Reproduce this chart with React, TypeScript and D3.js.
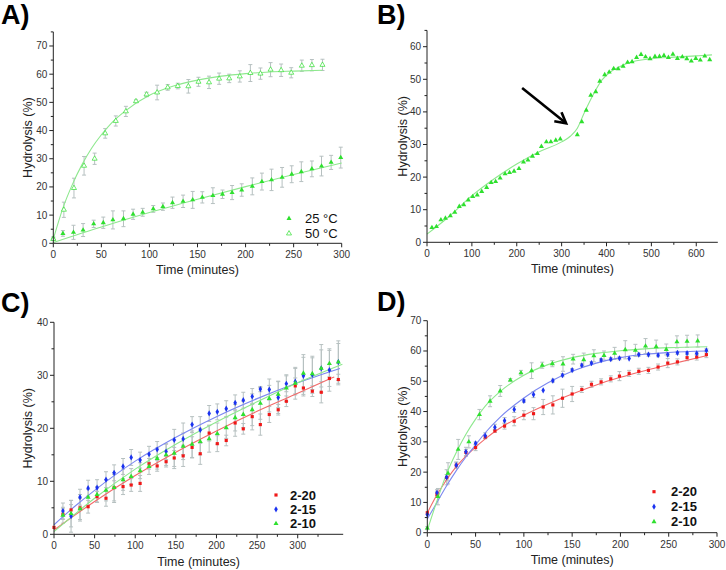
import React from "react";
import * as d3 from "d3";

const W = 726;
const H = 570;
const FONT = '"Liberation Sans", Arial, Helvetica, sans-serif';
const RED = "#f01818";
const BLUE = "#1a32f0";
const GREEN = "#2ee02e";
const RED_FIT = "#f26a6a";
const BLUE_FIT = "#7c88f0";
const GREEN_FIT = "#8ee88e";
const ERR = "#b6c0c0";

// ---- panel A: 25 °C and 50 °C ----
const a25X = [0, 10, 21, 31, 42, 52, 62, 73, 83, 93, 104, 114, 124, 135, 145, 155, 166, 176, 186, 196, 207, 217, 227, 238, 248, 258, 269, 279, 289, 299];
const a25Y = [1.8, 3.5, 3.9, 4.7, 6.9, 7.3, 8.3, 8.7, 10.3, 11, 12.2, 13, 14.4, 14.9, 15.4, 16.3, 16.9, 17.4, 18, 18.9, 20.2, 21.9, 22.5, 23.4, 24.5, 25.4, 26.4, 27.4, 28.7, 30.4];
const a25Err = [0.5, 1, 2.5, 2.3, 1.3, 2, 3.2, 2.8, 1.8, 1.4, 1.2, 1.3, 2, 2.2, 3, 2, 2.8, 1.5, 2.5, 2.2, 3, 3, 3.8, 3.5, 3, 3.5, 2.8, 3.5, 2.5, 3.7];
const a50X = [0, 11, 21.5, 32, 43, 54, 65, 75.5, 86, 97, 108, 119, 129.5, 140.5, 151, 162, 172.5, 183, 194, 205, 215.5, 226, 237, 247.5, 258.5, 269, 280];
const a50Y = [1.5, 11.9, 19.6, 27.5, 30, 39, 43.4, 46.8, 50.4, 52.8, 53.5, 55.3, 55.8, 55.7, 57.3, 57.1, 58.4, 58.5, 59.2, 60.4, 60.2, 61.6, 61.4, 60.5, 63, 63.2, 63.3];
const a50Err = [0.5, 2.7, 3.5, 3.3, 2, 1.7, 1.8, 1.8, 0.5, 0.8, 2.6, 1, 1, 2.4, 1.6, 2.2, 2, 1.5, 2, 3, 2, 2.5, 2.2, 1.8, 2, 2, 2];
const a25FitX = [0, 50, 100, 150, 200, 250, 300];
const a25FitY = [0.3, 5.8, 10.9, 15.6, 20.1, 24.4, 28.5];
const a50FitX = [0, 10, 20, 30, 40, 50, 60, 75, 100, 125, 150, 175, 200, 225, 250, 280];
const a50FitY = [1.5, 12.5, 21, 28, 33.8, 38.5, 42.5, 47, 52.5, 55.8, 57.9, 59.3, 60.2, 60.8, 61.1, 61.4];

// ---- panel B ----
const bX = [11, 21, 31, 41, 52, 62, 72, 82, 92, 102, 112, 122, 133, 143, 153, 163, 174, 184, 194, 205, 215, 225, 235, 246, 255, 266, 276, 287, 297, 335, 345, 355, 365, 376, 385, 396, 406, 416, 426, 437, 447, 457, 467, 477, 487, 497, 508, 518, 528, 538, 548, 558, 569, 579, 589, 599, 609, 619, 630];
const bY = [4.5, 4.8, 6.9, 7.4, 8.1, 9.2, 11, 11.5, 13, 14, 14.5, 15.6, 16.8, 18.3, 18.6, 19.7, 21, 21.4, 21.8, 22.6, 24.6, 25.2, 26.4, 27.2, 29.4, 30.8, 30.8, 31.3, 31.7, 33, 37, 40.5, 45.1, 46.2, 49.4, 51.4, 52.2, 53.3, 53.2, 54, 55.2, 55.4, 56.7, 57.6, 56.9, 56.3, 57, 57, 57.3, 56.7, 57.7, 56.4, 56.9, 56.3, 55.6, 56.4, 55.9, 57.1, 56];
const bFitX = [0, 50, 100, 150, 200, 250, 300, 320, 335, 350, 370, 390, 410, 430, 450, 500, 550, 600, 635];
const bFitY = [2.5, 8, 14.3, 19.5, 24, 27.8, 30.8, 32.6, 35, 39.6, 45.2, 49.8, 52.4, 53.9, 55.1, 56.3, 56.8, 57.2, 57.5];
const bArrowFrom = [212, 47.3];
const bArrowTo = [310, 36.5];

// ---- panel C ----
const cX = [0, 11, 21, 32, 42, 53, 64, 74, 85, 95, 106, 117, 127, 138, 148, 159, 170, 180, 191, 201, 212, 223, 233, 244, 254, 265, 276, 286, 297, 307, 318, 329, 339, 350];
const cRed = [1.3, 3.8, 4.6, 5.0, 5.2, 7.1, 6.8, 8.8, 9.0, 9.3, 9.6, 13.3, 12.9, 13.7, 14.4, 14.8, 16.4, 15.2, 19.1, 17.1, 17.7, 21.0, 19.9, 22.2, 20.7, 22.6, 23.5, 25.1, 28.0, 27.6, 27.0, 26.8, 29.4, 29.2];
const cBlue = [null, 4.4, 3.4, 7.0, 8.7, 8.8, 10.3, 11.6, 12.8, 14.5, 14.0, 15.1, 16.0, 15.6, 17.8, 18.0, 20.7, 19.7, 22.8, 23.1, 23.7, 24.8, 25.3, 26.0, 27.4, 27.3, 25.8, 28.4, 28.8, 29.9, 30.1, 31.3, 31.0, 32.5];
const cGreen = [null, 3.6, 3.9, 4.8, 7.0, 7.5, 8.3, 8.8, 10.3, 10.9, 12.0, 12.8, 14.3, 15.0, 15.3, 16.6, 17.0, 17.5, 18.0, 19.0, 20.1, 22.0, 22.6, 23.5, 24.7, 25.6, 26.4, 27.6, 28.5, 30.4, 30.3, 31.3, 32.2, 32.5];
const cRedErr = [0, 1, 1, 2.5, 1.2, 1, 1.5, 2.8, 1.5, 1.2, 1.5, 1, 1, 1, 2, 2, 2, 2, 1.5, 1.5, 1, 2.5, 1, 2.5, 2, 1.5, 1, 1, 1.5, 1.5, 1, 2, 1.5, 1];
const cBlueErr = [0, 1.5, 3, 1.5, 1.5, 1.5, 1.5, 1.5, 1.5, 1.5, 1.5, 1.5, 1.5, 1.5, 2, 3, 1.5, 2.5, 1.5, 1.5, 1.5, 1.5, 1.5, 1.5, 0.5, 2, 3, 1.5, 2.5, 3.5, 3.5, 4.5, 4, 4];
const cGreenErr = [0, 1.5, 2.5, 2, 1.5, 1.5, 2, 2.5, 2, 1.5, 1.5, 1.5, 2, 2, 2.5, 2.5, 2.5, 2.5, 2.5, 2, 2, 2.5, 2.5, 3, 3, 2.5, 2.5, 2.5, 3, 3.5, 3, 3.5, 2.5, 3.5];
const cRedFitX = [0, 50, 100, 150, 200, 250, 300, 345];
const cRedFitY = [0.8, 6.2, 11.1, 15.5, 19.5, 23.2, 26.6, 29.7];
const cBlueFitX = [0, 25, 50, 100, 150, 200, 250, 300, 352];
const cBlueFitY = [1.8, 5.2, 8.3, 13.8, 18.3, 22.2, 25.6, 28.6, 31.3];
const cGreenFitX = [0, 50, 100, 150, 200, 250, 300, 355];
const cGreenFitY = [0.5, 6.8, 12.3, 17.0, 21.2, 25.0, 28.6, 32.1];

// ---- panel D ----
const dX = [0, 10, 20, 30, 40, 50, 60, 70, 80, 90, 100, 110, 120, 130, 140, 150, 160, 170, 180, 190, 199, 209, 219, 229, 239, 249, 259, 269, 279, 289];
const dRed = [6.6, 12.7, 18.2, 22.3, 26.5, 28.1, 31.6, 33.6, 35.2, 36.8, 38.8, 39.3, 41.5, 42.2, 44.4, 45.8, 47.3, 49.0, 49.8, 50.8, 51.7, 52.6, 53.3, 53.6, 54.7, 56.0, 56.4, 57.8, 58.0, 58.8];
const dBlue = [6.0, 13.2, 18.3, 22.3, 26.7, 29.5, 32.0, 34.8, 37.0, 40.7, 43.5, 45.6, 47.0, 50.2, 52.0, 53.7, 55.3, 56.0, 57.0, 57.3, 57.6, 57.5, 58.8, 58.8, 58.6, 58.8, 59.4, 59.3, 59.2, 60.2];
const dRedErr = [0, 1, 1, 1, 1, 1, 0.5, 0.5, 1, 1.5, 1.5, 2, 2.5, 3, 3, 2.5, 1, 1, 1, 1, 1.5, 1, 1, 1, 1, 1.5, 1, 1, 1, 1];
const dBlueErr = [0, 1, 2.5, 1, 1.5, 0.5, 1, 1, 1, 1, 0.5, 1, 0, 0.5, 0.5, 0.5, 0.5, 0.5, 0.5, 0.5, 0.5, 0, 0.5, 0.5, 0.5, 0.5, 0.5, 0.5, 0.5, 0.5];
const dFitX = [0, 10, 20, 30, 40, 50, 60, 75, 100, 125, 150, 175, 200, 225, 250, 290];
const dRedFitY = [6.5, 12.5, 17.5, 21.8, 25.3, 28.3, 31, 34.5, 38.8, 42.5, 45.8, 48.8, 51.3, 53.5, 55.5, 58.5];
const dBlueFitY = [4.5, 10, 15.5, 20.5, 25, 29, 33, 38, 44.5, 49.5, 53.3, 56, 57.8, 58.9, 59.5, 60];
const dGreenFitY = [0.8, 10.5, 19.5, 26.5, 32.5, 37.5, 41.8, 46.5, 52, 55.5, 57.8, 59.2, 60.1, 60.7, 61.1, 61.4];

const legendC = ["2-20", "2-15", "2-10"];
const legendA = ["25 °C", "50 °C"];

const zip = (xs, ys, es) =>
  xs.map((x, i) => ({ x, y: ys[i], e: es ? es[i] : 0 })).filter((d) => d.y != null);
const pairs = (xs, ys) => xs.map((x, i) => [x, ys[i]]);

const symbolPath = (shape) => {
  const type =
    shape === "square" ? d3.symbolSquare : shape === "diamond" ? d3.symbolDiamond : d3.symbolTriangle;
  const size = shape === "square" ? 10 : shape === "diamond" ? 11 : 11;
  return d3.symbol().type(type).size(size)();
};

const Marker = ({ shape, color, cx, cy }) => {
  const open = shape === "triOpen";
  return (
    <path
      d={symbolPath(shape)}
      transform={`translate(${cx},${cy})`}
      fill={open ? "white" : color}
      stroke={open ? color : "none"}
      strokeWidth={open ? 0.7 : 0}
    />
  );
};

const panels = [
  {
    key: "A",
    label: "A)",
    labelPos: [1, 24],
    xDomain: [0, 300],
    xRange: [53.3, 341.7],
    yDomain: [0, 75],
    yRange: [243.3, 31.9],
    xStep: 50,
    yStep: 10,
    xTickMax: 300,
    yTickMax: 70,
    xLabelY: 274,
    yLabelX: 28,
    series: [
      { pts: zip(a25X, a25Y, a25Err), color: GREEN, shape: "tri" },
      { pts: zip(a50X, a50Y, a50Err), color: GREEN, shape: "triOpen" },
    ],
    fits: [
      { pts: pairs(a25FitX, a25FitY), color: GREEN_FIT },
      { pts: pairs(a50FitX, a50FitY), color: GREEN_FIT },
    ],
    legend: { x: 289, y: 218.5, dy: 15, textX: 305, bold: false, names: legendA, shapes: ["tri", "triOpen"], colors: [GREEN, GREEN] },
  },
  {
    key: "B",
    label: "B)",
    labelPos: [377, 24],
    xDomain: [0, 648],
    xRange: [427, 717.8],
    yDomain: [0, 65],
    yRange: [242.3, 30.4],
    xStep: 100,
    yStep: 10,
    xTickMax: 600,
    yTickMax: 60,
    xLabelY: 273,
    yLabelX: 403,
    series: [{ pts: zip(bX, bY, null), color: GREEN, shape: "tri" }],
    fits: [{ pts: pairs(bFitX, bFitY), color: GREEN_FIT }],
    arrow: [bArrowFrom, bArrowTo],
  },
  {
    key: "C",
    label: "C)",
    labelPos: [1, 312],
    xDomain: [0, 356],
    xRange: [54, 343.2],
    yDomain: [0, 40],
    yRange: [534.3, 322.3],
    xStep: 50,
    yStep: 10,
    xTickMax: 300,
    yTickMax: 40,
    xLabelY: 566,
    yLabelX: 28,
    series: [
      { pts: zip(cX, cRed, cRedErr), color: RED, shape: "square" },
      { pts: zip(cX, cBlue, cBlueErr), color: BLUE, shape: "diamond" },
      { pts: zip(cX, cGreen, cGreenErr), color: GREEN, shape: "tri" },
    ],
    fits: [
      { pts: pairs(cRedFitX, cRedFitY), color: RED_FIT },
      { pts: pairs(cBlueFitX, cBlueFitY), color: BLUE_FIT },
      { pts: pairs(cGreenFitX, cGreenFitY), color: GREEN_FIT },
    ],
    legend: { x: 276, y: 495, dy: 14.3, textX: 290, bold: true, names: legendC, shapes: ["square", "diamond", "tri"], colors: [RED, BLUE, GREEN] },
  },
  {
    key: "D",
    label: "D)",
    labelPos: [377, 311],
    xDomain: [0, 300],
    xRange: [427.3, 717],
    yDomain: [0, 70],
    yRange: [532.7, 320.7],
    xStep: 50,
    yStep: 10,
    xTickMax: 300,
    yTickMax: 70,
    xLabelY: 564,
    yLabelX: 403,
    series: [
      { pts: zip(dX, dRed, dRedErr), color: RED, shape: "square" },
      { pts: zip(dX, dBlue, dBlueErr), color: BLUE, shape: "diamond" },
      { pts: zip(a50X, a50Y, a50Err), color: GREEN, shape: "tri" },
    ],
    fits: [
      { pts: pairs(dFitX, dRedFitY), color: RED_FIT },
      { pts: pairs(dFitX, dBlueFitY), color: BLUE_FIT },
      { pts: pairs(dFitX, dGreenFitY), color: GREEN_FIT },
    ],
    legend: { x: 654, y: 491.7, dy: 15, textX: 671, bold: true, names: legendC, shapes: ["square", "diamond", "tri"], colors: [RED, BLUE, GREEN] },
  },
];

const Panel = ({ p }) => {
  const x = d3.scaleLinear().domain(p.xDomain).range(p.xRange);
  const y = d3.scaleLinear().domain(p.yDomain).range(p.yRange);
  const xMajor = d3.range(0, p.xTickMax + 1e-6, p.xStep);
  const xMinor = d3.range(p.xStep / 2, p.xDomain[1] + 1e-6, p.xStep);
  const yMajor = d3.range(0, p.yTickMax + 1e-6, p.yStep);
  const yMinor = d3.range(p.yStep / 2, p.yDomain[1] + 1e-6, p.yStep);
  const x0 = x(0);
  const y0 = y(0);
  const line = d3
    .line()
    .x((d) => x(d[0]))
    .y((d) => y(d[1]))
    .curve(d3.curveMonotoneX);
  const cap = 2;

  let arrow = null;
  if (p.arrow) {
    const [from, to] = p.arrow;
    const fx = x(from[0]), fy = y(from[1]);
    const tx = x(to[0]), ty = y(to[1]);
    const ang = Math.atan2(ty - fy, tx - fx);
    const hl = 12;
    const h1 = [tx - hl * Math.cos(ang - 0.5), ty - hl * Math.sin(ang - 0.5)];
    const h2 = [tx - hl * Math.cos(ang + 0.5), ty - hl * Math.sin(ang + 0.5)];
    arrow = (
      <g stroke="#000" strokeWidth={2.6} fill="none" strokeLinecap="butt">
        <line x1={fx} y1={fy} x2={tx} y2={ty} />
        <polyline points={`${h1[0]},${h1[1]} ${tx},${ty} ${h2[0]},${h2[1]}`} strokeLinejoin="miter" />
      </g>
    );
  }

  return (
    <g>
      <text x={p.labelPos[0]} y={p.labelPos[1]} fontSize={27} fontWeight="bold" fill="#000">
        {p.label}
      </text>

      {/* error bars */}
      <g stroke={ERR} strokeWidth={1}>
        {p.series.map((s, si) =>
          s.pts
            .filter((d) => d.e > 0)
            .map((d, i) => {
              const cx = x(d.x);
              const t = y(d.y + d.e);
              const b = y(d.y - d.e);
              return (
                <g key={`${si}-${i}`}>
                  <line x1={cx} x2={cx} y1={t} y2={b} />
                  <line x1={cx - cap} x2={cx + cap} y1={t} y2={t} />
                  <line x1={cx - cap} x2={cx + cap} y1={b} y2={b} />
                </g>
              );
            })
        )}
      </g>

      {/* fitted curves */}
      {p.fits.map((f, i) => (
        <path key={i} d={line(f.pts)} fill="none" stroke={f.color} strokeWidth={1.1} />
      ))}

      {/* points */}
      {p.series.map((s, si) =>
        s.pts.map((d, i) => (
          <Marker key={`${si}-${i}`} shape={s.shape} color={s.color} cx={x(d.x)} cy={y(d.y)} />
        ))
      )}

      {arrow}

      {/* axes */}
      <g stroke="#222" strokeWidth={1} fill="none">
        <line x1={x0} x2={x(p.xDomain[1])} y1={y0} y2={y0} />
        <line x1={x0} x2={x0} y1={y0} y2={y(p.yDomain[1])} />
        {xMajor.map((v) => (
          <line key={`xm${v}`} x1={x(v)} x2={x(v)} y1={y0} y2={y0 + 4} />
        ))}
        {xMinor.map((v) => (
          <line key={`xn${v}`} x1={x(v)} x2={x(v)} y1={y0} y2={y0 + 2.5} />
        ))}
        {yMajor.map((v) => (
          <line key={`ym${v}`} x1={x0 - 4} x2={x0} y1={y(v)} y2={y(v)} />
        ))}
        {yMinor.map((v) => (
          <line key={`yn${v}`} x1={x0 - 2.5} x2={x0} y1={y(v)} y2={y(v)} />
        ))}
      </g>
      <g fontSize={10} fill="#333">
        {xMajor.map((v) => (
          <text key={`xl${v}`} x={x(v)} y={y0 + 15} textAnchor="middle">
            {v}
          </text>
        ))}
        {yMajor.map((v) => (
          <text key={`yl${v}`} x={x0 - 6} y={y(v)} textAnchor="end" dominantBaseline="central">
            {v}
          </text>
        ))}
      </g>
      <text x={(p.xRange[0] + p.xRange[1]) / 2} y={p.xLabelY} textAnchor="middle" fontSize={12.5} fill="#222">
        Time (minutes)
      </text>
      <text
        transform={`translate(${p.yLabelX},${(y0 + y(p.yDomain[1])) / 2}) rotate(-90)`}
        textAnchor="middle"
        dominantBaseline="central"
        fontSize={12.5}
        fill="#222"
      >
        Hydrolysis (%)
      </text>

      {p.legend && (
        <g>
          {p.legend.names.map((n, i) => (
            <g key={n}>
              <Marker
                shape={p.legend.shapes[i]}
                color={p.legend.colors[i]}
                cx={p.legend.x}
                cy={p.legend.y + i * p.legend.dy}
              />
              <text
                x={p.legend.textX}
                y={p.legend.y + i * p.legend.dy}
                dominantBaseline="central"
                fontSize={13}
                fontWeight={p.legend.bold ? "bold" : "normal"}
                fill="#111"
              >
                {n}
              </text>
            </g>
          ))}
        </g>
      )}
    </g>
  );
};

export default function App() {
  return (
    <svg
      width={W}
      height={H}
      viewBox={`0 0 ${W} ${H}`}
      style={{ position: "absolute", left: 0, top: 0, background: "#fff", fontFamily: FONT }}
    >
      <rect width={W} height={H} fill="#fff" />
      {panels.map((p) => (
        <Panel key={p.key} p={p} />
      ))}
    </svg>
  );
}
